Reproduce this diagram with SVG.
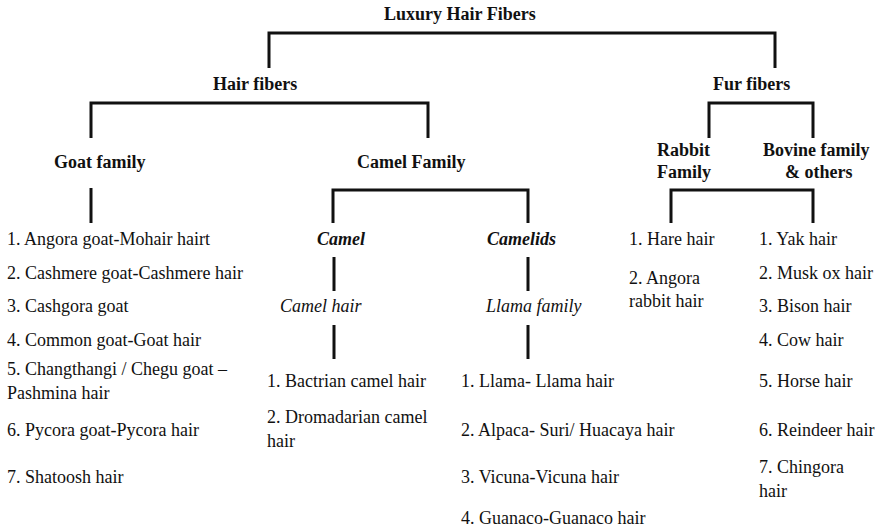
<svg xmlns="http://www.w3.org/2000/svg" width="882" height="531" viewBox="0 0 882 531">
<style>
text{font-family:"Liberation Serif","Times New Roman",serif;font-size:18px;fill:#111}
.h{font-weight:bold}
.bi{font-weight:bold;font-style:italic}
.i{font-style:italic}
.c{fill:none;stroke:#111;stroke-width:3;stroke-linecap:butt}
</style>
<rect width="882" height="531" fill="#fff"/>
<g id="connectors">
<path class="c" d="M269 68V33H775V68"/>
<path class="c" d="M91 138V103H428V138"/>
<path class="c" d="M709 138V103H813V138"/>
<path class="c" d="M91 188V223"/>
<path class="c" d="M333 223V190H528V223"/>
<path class="c" d="M671 223V190H813V223"/>
<path class="c" d="M334 257V291M334 325V359"/>
<path class="c" d="M528 257V291M528 325V359"/>
</g>
<g id="root"><text class="h" x="384" y="20">Luxury Hair Fibers</text></g>
<g id="hair-fibers"><text class="h" x="213" y="90">Hair fibers</text></g>
<g id="fur-fibers"><text class="h" x="713" y="90">Fur fibers</text></g>
<g id="goat-family"><text class="h" x="54" y="168">Goat family</text></g>
<g id="camel-family"><text class="h" x="357" y="168">Camel Family</text></g>
<g id="rabbit-family"><text class="h" x="657" y="156">Rabbit</text><text class="h" x="657" y="178">Family</text></g>
<g id="bovine-family"><text class="h" x="763" y="156">Bovine family</text><text class="h" x="785" y="178">&amp; others</text></g>
<g id="goat-list">
<text x="7" y="245">1. Angora goat-Mohair hairt</text>
<text x="7" y="279">2. Cashmere goat-Cashmere hair</text>
<text x="7" y="312">3. Cashgora goat</text>
<text x="7" y="346">4. Common goat-Goat hair</text>
<text x="7" y="375">5. Changthangi / Chegu goat –</text>
<text x="7" y="399">Pashmina hair</text>
<text x="7" y="436">6. Pycora goat-Pycora hair</text>
<text x="7" y="483">7. Shatoosh hair</text>
</g>
<g id="camel"><text class="bi" x="317" y="245">Camel</text></g>
<g id="camel-hair"><text class="i" x="280" y="312">Camel hair</text></g>
<g id="camel-list">
<text x="267" y="387">1. Bactrian camel hair</text>
<text x="267" y="423">2. Dromadarian camel</text>
<text x="267" y="447">hair</text>
</g>
<g id="camelids"><text class="bi" x="487" y="245">Camelids</text></g>
<g id="llama-family"><text class="i" x="486" y="312">Llama family</text></g>
<g id="llama-list">
<text x="461" y="387">1. Llama- Llama hair</text>
<text x="461" y="436">2. Alpaca- Suri/ Huacaya hair</text>
<text x="461" y="483">3. Vicuna-Vicuna hair</text>
<text x="461" y="524">4. Guanaco-Guanaco hair</text>
</g>
<g id="rabbit-list">
<text x="629" y="245">1. Hare hair</text>
<text x="629" y="284">2. Angora</text>
<text x="629" y="307">rabbit hair</text>
</g>
<g id="bovine-list">
<text x="759" y="245">1. Yak hair</text>
<text x="759" y="279">2. Musk ox hair</text>
<text x="759" y="312">3. Bison hair</text>
<text x="759" y="346">4. Cow hair</text>
<text x="759" y="387">5. Horse hair</text>
<text x="759" y="436">6. Reindeer hair</text>
<text x="759" y="473">7. Chingora</text>
<text x="759" y="497">hair</text>
</g>
</svg>
